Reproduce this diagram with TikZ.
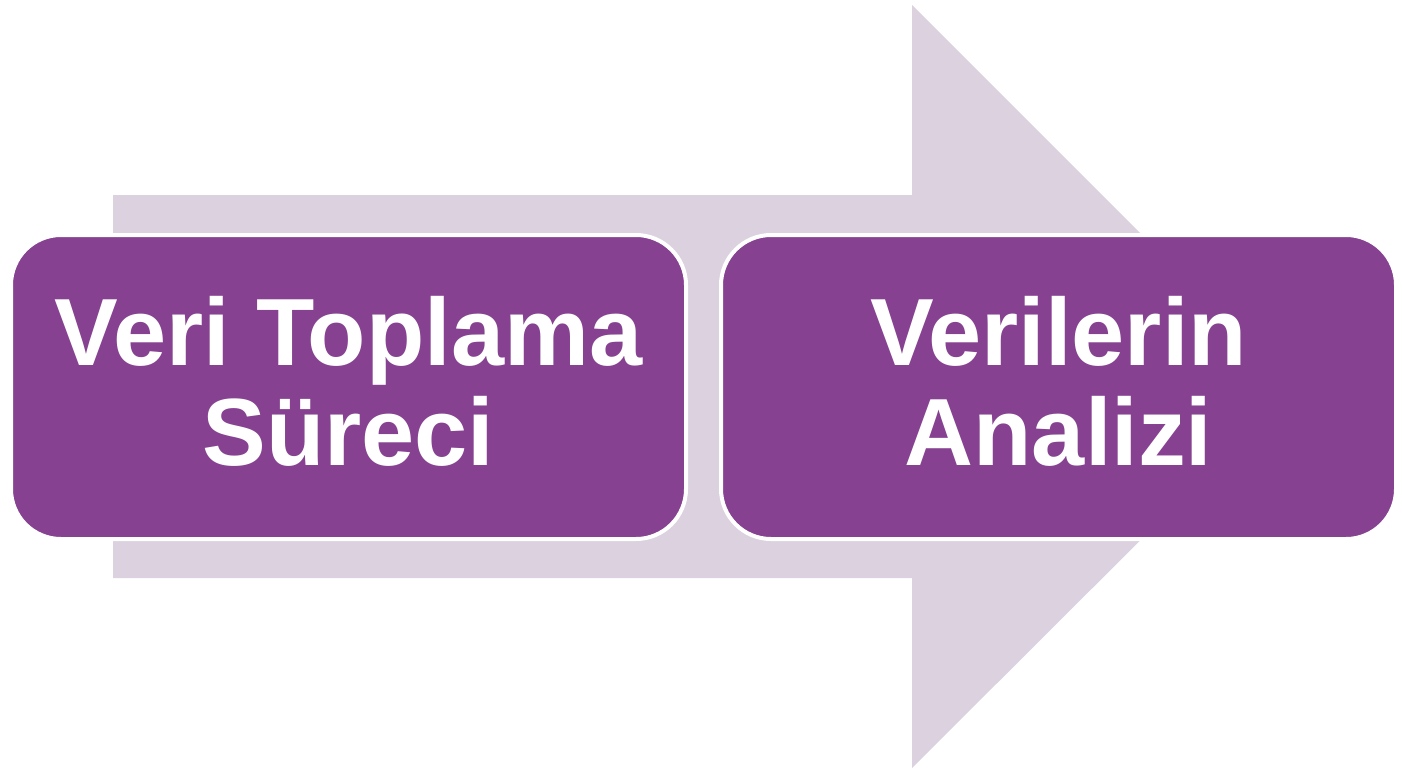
\documentclass[tikz,border=0pt]{standalone}
\usepackage{fontspec}
\setmainfont{Liberation Sans}
\usepackage{xcolor}
\usepackage{tikz}
\usetikzlibrary{positioning}
\definecolor{stepPurple}{RGB}{134,65,145}
\definecolor{arrowLilac}{RGB}{219,209,223}

\begin{document}
\begin{tikzpicture}[
    x=1pt, y=-1pt,
    stage/.style={draw=white, line width=4pt, fill=stepPurple, rounded corners=50pt,
        minimum width=675pt, minimum height=304pt, align=center, text=white,
        text depth=12pt, font=\fontsize{95.5}{100}\selectfont\bfseries},
    bigarrow/.style={fill=arrowLilac}
]
\useasboundingbox (0,0) rectangle (1402,772);

% Arrow
\fill[bigarrow] (113,195) -- (912,195) -- (912,5) -- (1294,387) -- (912,768)
    -- (912,578) -- (113,578) -- cycle;

% Nodes
\node[stage] (collect) at (348.5,387) {Veri Toplama\\Süreci};
\node[stage] (analyse) at (1058.5,387) {Verilerin\\Analizi};

\end{tikzpicture}
\end{document}
